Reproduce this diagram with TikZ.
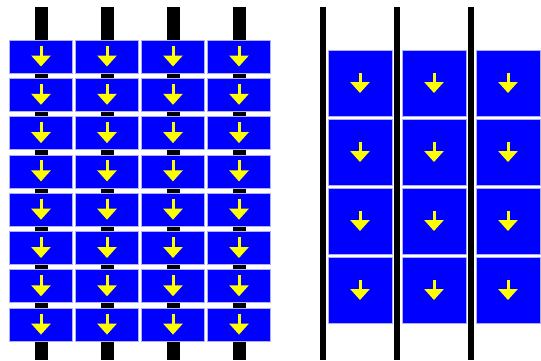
\documentclass[tikz,border=0pt]{standalone}
\usepackage{xcolor}
\usetikzlibrary{arrows.meta,calc}
\definecolor{Panel}{RGB}{0,0,255}
\definecolor{Edge}{RGB}{175,175,255}
\definecolor{Pointer}{RGB}{255,255,0}

\begin{document}
\begin{tikzpicture}[x=1pt,y=-1pt,
  cell/.style={draw=Edge,fill=Panel,line width=0.8pt,inner sep=0pt},
  small/.style={cell,minimum width=63pt,minimum height=33pt},
  big/.style={cell,minimum width=64pt,minimum height=66pt},
  rail/.style={draw=black,line width=13pt},
  wire/.style={draw=black,line width=5.5pt},
  down/.style={draw=Pointer,line width=3pt,-{Triangle[width=19pt,length=11pt]}}
]
\useasboundingbox (0,0) rectangle (541,360);
% left block: thick rails with stacked short cells
\foreach \c in {0,...,3} {
  \draw[rail] (41+66*\c,7) -- (41+66*\c,360);
  \foreach \r in {0,...,7} {
    \node[small] (lb-\c-\r) at (41+66*\c,56.5+38.3*\r) {};
    \draw[down] ($(lb-\c-\r.center)+(0,-11)$) -- ($(lb-\c-\r.center)+(0,10)$);
  }
}
% right block: thin wires with tall cells
\foreach \c in {0,1,2} {
  \draw[wire] (323+74*\c,7) -- (323+74*\c,360);
  \foreach \r in {0,...,3} {
    \node[big] (rb-\c-\r) at (360+74*\c,83+69*\r) {};
    \draw[down] ($(rb-\c-\r.center)+(0,-10)$) -- ($(rb-\c-\r.center)+(0,10)$);
  }
}
\end{tikzpicture}
\end{document}
